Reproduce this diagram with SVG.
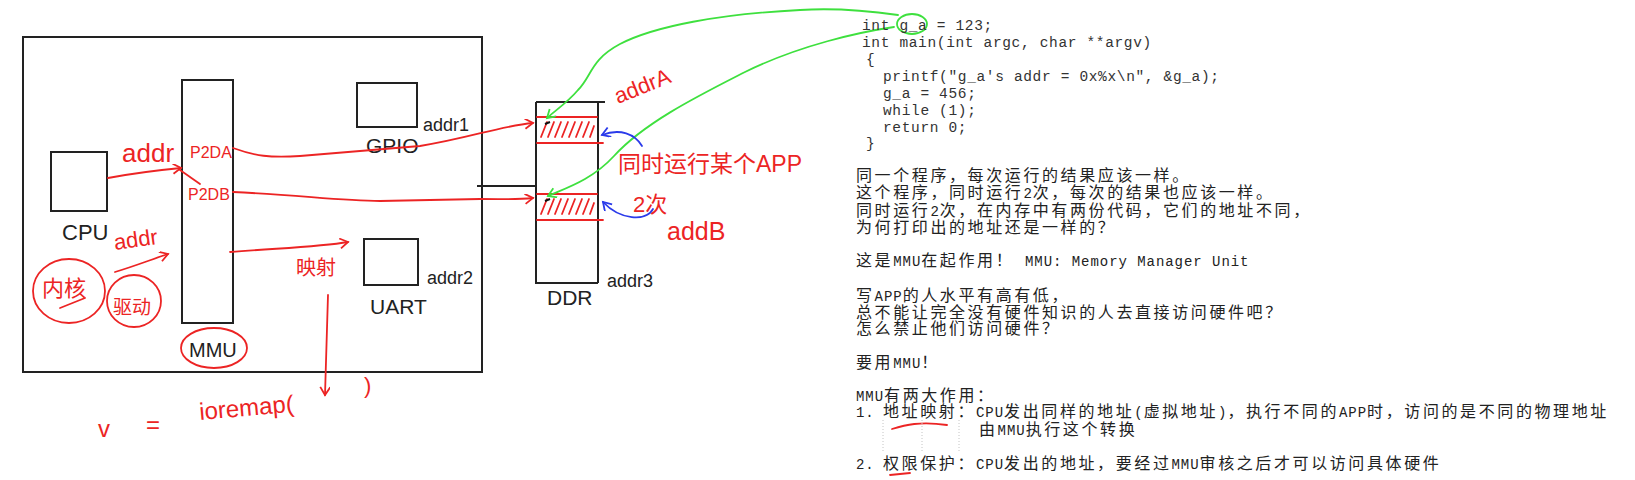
<svg xmlns="http://www.w3.org/2000/svg" width="1635" height="480" viewBox="0 0 1635 480">
<defs>
<style>
.bk{fill:none;stroke:#222;stroke-width:2}
.rd{fill:none;stroke:#ec2424;stroke-width:1.8;stroke-linecap:round}
.gr{fill:none;stroke:#3ee03e;stroke-width:1.8;stroke-linecap:round}
.bl{fill:none;stroke:#2b3bea;stroke-width:1.8;stroke-linecap:round}
.hw{font-family:"Liberation Sans",sans-serif;fill:#222}
.hr{font-family:"Liberation Sans","Noto Sans CJK SC",sans-serif;fill:#ec2424}
.code{font-family:"Liberation Mono",monospace;font-size:14.5px;letter-spacing:0.65px;fill:#333;white-space:pre}
.zh{font-family:"Noto Sans CJK SC",sans-serif;font-size:16px;letter-spacing:2.6px;fill:#222}
.en{font-family:"Liberation Mono",monospace;font-size:14px;letter-spacing:0.95px}
</style>
<marker id="ar" markerWidth="12" markerHeight="12" refX="9" refY="5" orient="auto" markerUnits="userSpaceOnUse"><path d="M1,0 L9,5 L1,10" fill="none" stroke="#ec2424" stroke-width="1.8"/></marker>
<marker id="ag" markerWidth="12" markerHeight="12" refX="9" refY="5" orient="auto" markerUnits="userSpaceOnUse"><path d="M1,0 L9,5 L1,10" fill="none" stroke="#3ee03e" stroke-width="1.8"/></marker>
<marker id="ab" markerWidth="12" markerHeight="12" refX="9" refY="5" orient="auto" markerUnits="userSpaceOnUse"><path d="M1,0 L9,5 L1,10" fill="none" stroke="#2b3bea" stroke-width="1.8"/></marker>
</defs>
<rect width="1635" height="480" fill="#fff"/>

<g id="board">
<rect class="bk" x="23" y="37" width="459" height="335"/>
<path class="bk" d="M477,186 L537,186"/>
</g>

<g id="cpu">
<rect class="bk" x="51" y="152" width="56" height="59"/>
<text class="hw" x="62" y="240" font-size="22">CPU</text>
</g>

<g id="mmu">
<rect class="bk" x="182" y="80" width="51" height="243"/>
<text class="hw" x="189" y="357" font-size="20">MMU</text>
<ellipse class="rd" cx="214" cy="348" rx="33" ry="20"/>
<text class="hr" x="190" y="158" font-size="16">P2DA</text>
<text class="hr" x="188" y="200" font-size="16">P2DB</text>
</g>

<g id="gpio">
<rect class="bk" x="357" y="83" width="60" height="44"/>
<text class="hw" x="366" y="153" font-size="21">GPIO</text>
<text class="hw" x="423" y="131" font-size="18">addr1</text>
</g>

<g id="uart">
<rect class="bk" x="364" y="239" width="54" height="46"/>
<text class="hw" x="370" y="314" font-size="21">UART</text>
<text class="hw" x="427" y="284" font-size="18">addr2</text>
</g>

<g id="ddr">
<path class="bk" d="M536,102 L605,102 M536,102 L536,283 M598,102 L598,283 M535,283 L598,283"/>
<path class="rd" d="M537,117 L597,117 M537,143 L603,143 M537,194 L597,194 M537,220 L603,220"/>
<path class="rd" d="M541,137 L547,122 M548,137 L554,122 M555,137 L561,122 M562,137 L568,122 M569,137 L575,122 M576,137 L582,122 M583,137 L589,122 M590,137 L594,126 M541,214 L547,199 M548,214 L554,199 M555,214 L561,199 M562,214 L568,199 M569,214 L575,199 M576,214 L582,199 M583,214 L589,199 M590,214 L594,203"/>
<path d="M545,124 L550,122 M545,201 L550,199" stroke="#111" stroke-width="2"/>
<text class="hw" x="547" y="305" font-size="21">DDR</text>
<text class="hw" x="607" y="287" font-size="18">addr3</text>
</g>

<g id="annotations">
<text class="hr" x="122" y="162" font-size="26">addr</text>
<text class="hr" x="115" y="250" font-size="22" transform="rotate(-8 115 250)">addr</text>
<ellipse class="rd" cx="69" cy="291" rx="36" ry="32"/>
<text class="hr" x="42" y="296" font-size="22">内核</text>
<path class="rd" d="M60,308 L85,298"/>
<ellipse class="rd" cx="134" cy="301" rx="27" ry="26"/>
<text class="hr" x="113" y="314" font-size="19">驱动</text>
<text class="hr" x="296" y="275" font-size="20">映射</text>
<text class="hr" x="98" y="437" font-size="24">v</text>
<text class="hr" x="146" y="433" font-size="24">=</text>
<text class="hr" x="200" y="420" font-size="24" transform="rotate(-5 200 420)">ioremap(</text>
<text class="hr" x="364" y="393" font-size="22">)</text>
<text class="hr" x="618" y="104" font-size="22" transform="rotate(-22 618 104)">addrA</text>
<text class="hr" x="618" y="172" font-size="23">同时运行某个APP</text>
<text class="hr" x="633" y="212" font-size="22">2次</text>
<text class="hr" x="667" y="240" font-size="25">addB</text>
<ellipse class="gr" cx="912" cy="24" rx="15" ry="10"/>
<path class="rd" d="M892,429 C905,425 920,421 947,425 M890,475 L910,473"/>
<path d="M883,420 L883,453 M922,420 L922,453 M959,420 L959,453" stroke="#c4c4c4" stroke-width="1" stroke-dasharray="1,2"/>
</g>

<g id="connectors">
<path class="rd" d="M108,178 C140,172 160,170 181,168" marker-end="url(#ar)"/>
<path class="rd" d="M180,170 L200,184"/>
<path class="rd" d="M233,148 C255,156 270,158 300,156 L420,146 C470,138 500,126 533,123" marker-end="url(#ar)"/>
<path class="rd" d="M233,192 C300,195 340,201 380,201 L480,199 C505,199 515,200 533,198" marker-end="url(#ar)"/>
<path class="rd" d="M230,252 C280,248 320,247 348,242" marker-end="url(#ar)"/>
<path class="rd" d="M115,272 C135,266 150,260 168,254" marker-end="url(#ar)"/>
<path class="rd" d="M328,295 L325,395" marker-end="url(#ar)"/>
<path class="gr" d="M898,15 C870,11 830,8 800,10 C720,14 655,26 620,44 C590,60 592,76 578,90 C568,102 556,110 547,118" marker-end="url(#ag)"/>
<path class="gr" d="M894,27 C860,32 800,45 745,72 C700,95 645,122 614,156 C592,180 566,188 548,196" marker-end="url(#ag)"/>
<path class="bl" d="M642,146 C635,134 620,128 602,135" marker-end="url(#ab)"/>
<path class="bl" d="M653,209 C646,222 620,220 603,202" marker-end="url(#ab)"/>
</g>

<g id="code">
<text class="code" x="862" y="30">int g_a = 123;</text>
<text class="code" x="862" y="47">int main(int argc, char **argv)</text>
<text class="code" x="866" y="64">{</text>
<text class="code" x="883" y="81">printf("g_a's addr = 0x%x\n", &amp;g_a);</text>
<text class="code" x="883" y="98">g_a = 456;</text>
<text class="code" x="883" y="115">while (1);</text>
<text class="code" x="883" y="132">return 0;</text>
<text class="code" x="866" y="148">}</text>
</g>

<g id="notes">
<text class="zh" x="856" y="181">同一个程序，每次运行的结果应该一样。</text>
<text class="zh" x="856" y="198">这个程序，同时运行<tspan class="en">2</tspan>次，每次的结果也应该一样。</text>
<text class="zh" x="856" y="216">同时运行<tspan class="en">2</tspan>次，在内存中有两份代码，它们的地址不同，</text>
<text class="zh" x="856" y="233">为何打印出的地址还是一样的？</text>
<text class="zh" x="856" y="266">这是<tspan class="en">MMU</tspan>在起作用！<tspan class="en" x="1025">MMU: Memory Manager Unit</tspan></text>
<text class="zh" x="856" y="301">写<tspan class="en">APP</tspan>的人水平有高有低，</text>
<text class="zh" x="856" y="318">总不能让完全没有硬件知识的人去直接访问硬件吧？</text>
<text class="zh" x="856" y="334">怎么禁止他们访问硬件？</text>
<text class="zh" x="856" y="368">要用<tspan class="en">MMU</tspan>！</text>
<text class="zh" x="856" y="401"><tspan class="en">MMU</tspan>有两大作用：</text>
<text class="zh" x="856" y="417"><tspan class="en">1.</tspan><tspan x="883">地址映射：</tspan><tspan class="en">CPU</tspan>发出同样的地址<tspan class="en">(</tspan>虚拟地址<tspan class="en">)</tspan>，执行不同的<tspan class="en">APP</tspan>时，访问的是不同的物理地址</text>
<text class="zh" x="979" y="435">由<tspan class="en">MMU</tspan>执行这个转换</text>
<text class="zh" x="856" y="469"><tspan class="en">2.</tspan><tspan x="883">权限保护：</tspan><tspan class="en">CPU</tspan>发出的地址，要经过<tspan class="en">MMU</tspan>审核之后才可以访问具体硬件</text>
</g>
</svg>
